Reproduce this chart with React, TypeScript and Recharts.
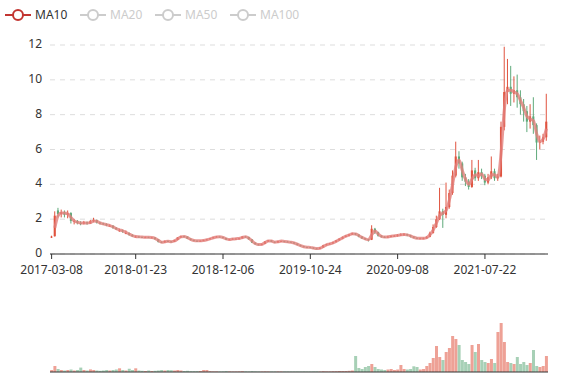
import React from "react";
import {
  ComposedChart,
  BarChart,
  Bar,
  Line,
  Cell,
  XAxis,
  YAxis,
  CartesianGrid,
} from "recharts";

// one candle per ~8 trading days: [open, close, low, high]
const ohlc: [number, number, number, number][] = [
  [0.95, 1.0, 0.92, 1.05], [1.02, 2.2, 1.0, 2.45], [2.5, 2.3, 2.1, 2.65], [2.3, 2.4, 2.1, 2.55], [2.4, 2.25, 2.1, 2.5],
  [2.25, 2.35, 2.05, 2.5], [2.35, 1.9, 1.75, 2.4], [1.85, 1.9, 1.7, 2.0], [1.9, 1.78, 1.7, 1.95], [1.78, 1.75, 1.65, 1.88],
  [1.75, 1.82, 1.7, 1.9], [1.82, 1.75, 1.68, 1.86], [1.75, 1.88, 1.72, 1.95], [1.88, 1.95, 1.82, 2.08], [1.95, 1.8, 1.75, 1.98],
  [1.8, 1.76, 1.7, 1.85], [1.76, 1.72, 1.66, 1.8], [1.72, 1.66, 1.6, 1.76], [1.6, 1.62, 1.55, 1.7], [1.62, 1.5, 1.45, 1.66],
  [1.5, 1.42, 1.38, 1.55], [1.34, 1.36, 1.28, 1.45], [1.36, 1.3, 1.22, 1.4], [1.18, 1.2, 1.15, 1.35], [1.2, 1.1, 1.05, 1.24],
  [1.1, 1.02, 0.98, 1.14], [1.0, 1.0, 0.95, 1.05], [1.0, 0.98, 0.94, 1.03], [0.98, 0.96, 0.93, 1.0], [0.96, 0.97, 0.93, 1.0],
  [0.97, 0.95, 0.92, 0.99], [0.95, 0.95, 0.92, 0.98], [0.95, 0.85, 0.83, 0.96], [0.85, 0.7, 0.66, 0.86], [0.7, 0.66, 0.63, 0.72],
  [0.66, 0.75, 0.65, 0.77], [0.75, 0.72, 0.7, 0.78], [0.72, 0.7, 0.68, 0.75], [0.7, 0.8, 0.69, 0.82], [0.8, 0.95, 0.79, 0.97],
  [0.95, 1.02, 0.93, 1.05], [1.02, 1.0, 0.97, 1.04], [1.0, 0.88, 0.86, 1.01], [0.88, 0.8, 0.78, 0.89], [0.8, 0.76, 0.74, 0.82],
  [0.76, 0.75, 0.72, 0.78], [0.75, 0.76, 0.73, 0.78], [0.76, 0.8, 0.75, 0.82], [0.8, 0.84, 0.79, 0.86], [0.84, 0.9, 0.83, 0.92],
  [0.9, 0.96, 0.89, 0.98], [0.96, 1.0, 0.95, 1.03], [1.0, 0.98, 0.95, 1.01], [0.98, 0.92, 0.9, 0.99], [0.92, 0.82, 0.8, 0.93],
  [0.82, 0.84, 0.8, 0.86], [0.84, 0.88, 0.83, 0.9], [0.88, 0.88, 0.85, 0.9], [0.88, 0.9, 0.87, 0.93], [0.9, 1.0, 0.89, 1.02],
  [1.0, 0.98, 0.95, 1.02], [0.98, 0.84, 0.82, 0.99], [0.84, 0.65, 0.63, 0.85], [0.65, 0.56, 0.54, 0.66], [0.56, 0.52, 0.5, 0.58],
  [0.52, 0.58, 0.51, 0.6], [0.58, 0.72, 0.57, 0.74], [0.72, 0.78, 0.7, 0.8], [0.78, 0.7, 0.68, 0.79], [0.7, 0.66, 0.64, 0.72],
  [0.66, 0.74, 0.65, 0.76], [0.74, 0.74, 0.71, 0.76], [0.74, 0.71, 0.69, 0.75], [0.71, 0.7, 0.68, 0.73], [0.7, 0.67, 0.65, 0.72],
  [0.67, 0.6, 0.58, 0.68], [0.6, 0.52, 0.5, 0.61], [0.52, 0.45, 0.43, 0.53], [0.45, 0.4, 0.38, 0.46], [0.4, 0.39, 0.37, 0.42],
  [0.39, 0.37, 0.35, 0.4], [0.37, 0.32, 0.3, 0.38], [0.32, 0.3, 0.28, 0.34], [0.3, 0.37, 0.29, 0.39], [0.37, 0.5, 0.36, 0.52],
  [0.5, 0.56, 0.49, 0.58], [0.56, 0.6, 0.55, 0.63], [0.6, 0.68, 0.59, 0.7], [0.68, 0.78, 0.67, 0.8], [0.78, 0.88, 0.77, 0.9],
  [0.88, 0.98, 0.87, 1.0], [0.98, 1.05, 0.96, 1.08], [1.05, 1.12, 1.03, 1.15], [1.12, 1.19, 1.1, 1.22], [1.19, 1.12, 1.08, 1.2],
  [1.12, 1.0, 0.96, 1.13], [1.0, 0.9, 0.86, 1.02], [0.9, 0.85, 0.8, 0.92], [0.85, 0.8, 0.72, 0.86], [0.82, 1.45, 0.8, 1.65],
  [1.45, 1.25, 1.15, 1.5], [1.25, 1.05, 1.0, 1.28], [1.05, 0.98, 0.94, 1.08], [0.98, 0.96, 0.92, 1.02], [0.96, 1.0, 0.94, 1.05],
  [1.0, 1.03, 0.97, 1.08], [1.03, 1.05, 0.99, 1.1], [1.05, 1.08, 1.0, 1.14], [1.08, 1.12, 1.04, 1.18], [1.12, 1.13, 1.06, 1.2],
  [1.13, 1.08, 1.02, 1.16], [1.08, 1.0, 0.95, 1.1], [1.0, 0.93, 0.9, 1.02], [0.93, 0.9, 0.87, 0.95], [0.9, 0.9, 0.87, 0.93],
  [0.9, 0.9, 0.87, 0.94], [0.9, 0.98, 0.88, 1.02], [0.98, 1.2, 0.96, 1.28], [1.2, 1.55, 1.18, 1.7], [1.55, 2.0, 1.5, 2.2],
  [2.0, 2.45, 1.95, 3.8], [2.45, 2.25, 1.5, 2.6], [2.25, 2.7, 2.05, 4.1], [2.7, 3.5, 2.6, 3.7], [3.5, 4.5, 3.4, 4.8],
  [4.5, 5.6, 4.4, 6.45], [5.6, 5.2, 4.9, 5.9], [5.2, 4.4, 4.2, 5.3], [4.4, 4.15, 3.9, 4.6], [4.15, 3.85, 3.7, 4.3],
  [3.85, 4.8, 3.8, 5.4], [4.8, 4.35, 4.2, 4.95], [4.35, 4.7, 4.2, 5.4], [4.7, 4.5, 4.3, 4.9], [4.5, 4.1, 3.95, 4.6],
  [4.1, 4.4, 4.0, 4.6], [4.4, 4.75, 4.3, 5.6], [4.75, 4.35, 4.2, 4.9], [4.35, 4.45, 4.2, 4.6], [4.45, 7.3, 4.4, 7.6],
  [7.3, 9.3, 7.1, 11.9], [9.3, 9.6, 8.6, 11.2], [9.6, 9.2, 8.5, 10.8], [9.2, 9.4, 8.7, 10.2], [9.4, 9.0, 8.4, 10.3],
  [9.0, 8.6, 8.0, 9.4], [8.6, 8.2, 7.6, 8.9], [8.2, 7.6, 7.0, 8.5], [7.6, 7.9, 7.2, 8.6], [7.9, 7.4, 6.9, 9.0],
  [7.4, 6.4, 5.4, 7.5], [6.4, 6.45, 6.0, 6.8], [6.45, 6.7, 6.3, 6.9], [6.7, 7.6, 6.5, 9.2],
];

const ma10: (number | null)[] = [
  null, 1.5, 2.2, 2.35, 2.35, 2.3, 2.1, 1.9, 1.82, 1.78,
  1.78, 1.78, 1.8, 1.9, 1.88, 1.78, 1.73, 1.68, 1.63, 1.56,
  1.46, 1.39, 1.33, 1.25, 1.15, 1.06, 1.01, 0.99, 0.97, 0.96,
  0.96, 0.95, 0.9, 0.78, 0.68, 0.7, 0.73, 0.71, 0.75, 0.87,
  0.98, 1.01, 0.94, 0.84, 0.78, 0.755, 0.755, 0.78, 0.82, 0.87,
  0.93, 0.98, 0.99, 0.95, 0.87, 0.83, 0.86, 0.88, 0.89, 0.95,
  0.99, 0.91, 0.75, 0.6, 0.54, 0.55, 0.65, 0.75, 0.74, 0.68,
  0.7, 0.74, 0.72, 0.7, 0.68, 0.63, 0.56, 0.48, 0.42, 0.39,
  0.38, 0.34, 0.31, 0.33, 0.43, 0.53, 0.58, 0.64, 0.73, 0.83,
  0.93, 1.02, 1.09, 1.16, 1.15, 1.06, 0.95, 0.87, 0.82, 1.1,
  1.32, 1.15, 1.01, 0.97, 0.98, 1.02, 1.04, 1.07, 1.1, 1.12,
  1.1, 1.04, 0.96, 0.91, 0.9, 0.9, 0.94, 1.1, 1.38, 1.78,
  2.2, 2.35, 2.5, 3.1, 4.0, 5.0, 5.4, 4.8, 4.3, 4.0,
  4.3, 4.55, 4.5, 4.6, 4.3, 4.25, 4.55, 4.55, 4.4, 5.8,
  8.3, 9.4, 9.4, 9.3, 9.2, 8.8, 8.4, 7.9, 7.75, 7.65,
  6.9, 6.45, 6.6, 7.2,
];

const volume: number[] = [
  2, 6, 3, 2, 1.5, 2, 2.5, 1.5, 2, 4.4,
  2, 1.5, 2.6, 2, 1.5, 1.2, 1.5, 2, 1.5, 2,
  2.5, 3.7, 2, 1.5, 3.3, 2, 3.7, 1.5, 1.2, 1,
  1.5, 1, 1.2, 1.5, 2, 1.5, 2, 1.8, 1.5, 2,
  1.5, 1, 1.2, 0.8, 0.8, 0.8, 1, 2, 2, 0.8,
  0.6, 0.6, 0.5, 0.6, 0.8, 0.6, 0.5, 0.5, 0.6, 0.8,
  0.6, 0.5, 0.8, 0.6, 0.5, 0.5, 0.6, 0.5, 0.5, 0.5,
  0.5, 0.5, 0.5, 0.5, 0.5, 0.5, 0.5, 0.5, 0.6, 0.5,
  0.5, 0.6, 0.6, 0.5, 0.8, 0.6, 0.6, 0.8, 0.8, 1,
  1, 1, 1.2, 1.5, 16, 4, 3, 5, 6, 8,
  5, 3, 2.5, 2, 2.5, 3, 2, 2.5, 7, 3,
  2.5, 3, 5.7, 5, 2.5, 3, 6, 9, 14, 26,
  15, 12, 20, 24, 36, 33, 27, 12, 10, 8,
  27, 20, 28, 12, 10, 9, 13, 9, 40, 49,
  30, 10, 9, 8, 15, 8, 10, 7, 9, 22,
  6, 5, 6, 16,
];

const tickIdx = [0, 26, 53, 80, 107, 134];
const tickLabels = ["2017-03-08", "2018-01-23", "2018-12-06", "2019-10-24", "2020-09-08", "2021-07-22"];
const priceTicks = [0, 2, 4, 6, 8, 10, 12];

const legendItems = ["MA10", "MA20", "MA50", "MA100"];

const UP = "#e0533f";
const DOWN = "#5ea97a";
const FONT = "'Noto Sans', sans-serif";

const data = ohlc.map(([o, c, l, h], i) => ({
  i,
  o,
  c,
  l,
  h,
  range: [l, h],
  ma10: ma10[i],
  vol: volume[i],
}));

const labelOf = (v: number) => {
  const k = tickIdx.indexOf(v);
  return k >= 0 ? tickLabels[k] : "";
};

const Candle = (props: any) => {
  const { x, y, width, height, payload } = props;
  if (!payload || height == null) return null;
  const { o, c, l, h } = payload;
  const color = c >= o ? UP : DOWN;
  const ratio = h - l > 0 ? height / (h - l) : 0;
  const cx = x + width / 2;
  const top = y + (h - Math.max(o, c)) * ratio;
  const bodyH = Math.max(1, Math.abs(o - c) * ratio);
  const bw = Math.max(1, width * 0.7);
  return (
    <g>
      <line x1={cx} x2={cx} y1={y} y2={y + height} stroke={color} strokeWidth={1} />
      <rect x={cx - bw / 2} y={top} width={bw} height={bodyH} fill={color} />
    </g>
  );
};

const YTick = (props: any) => {
  const { x, y, payload } = props;
  return (
    <text x={x} y={y} dy={3} textAnchor="end" fontSize={12} fill="#333" fontFamily={FONT}>
      {payload.value}
    </text>
  );
};

function Legend() {
  return (
    <div style={{ position: "absolute", left: 0, top: 0, height: 30, fontFamily: FONT, fontSize: 12 }}>
      {legendItems.map((name, k) => {
        const left = [5, 80, 155, 230][k];
        const color = k === 0 ? "#c23531" : "#ccc";
        return (
          <div key={name} style={{ position: "absolute", left, top: 6, display: "flex", alignItems: "center", whiteSpace: "nowrap" }}>
            <svg width={26} height={18}>
              <line x1={0} x2={26} y1={9} y2={9} stroke={color} strokeWidth={2} />
              <circle cx={13} cy={9} r={5} fill="#fff" stroke={color} strokeWidth={2} />
            </svg>
            <span style={{ marginLeft: 4, color: k === 0 ? "#333" : "#ccc", lineHeight: "18px" }}>{name}</span>
          </div>
        );
      })}
    </div>
  );
}

export default function App() {
  return (
    <div style={{ position: "absolute", left: 0, top: 0, width: 577, height: 380, background: "#fff", fontFamily: FONT }}>
      <Legend />
      <div style={{ position: "absolute", left: 0, top: 0 }}>
        <ComposedChart width={577} height={284} data={data} margin={{ top: 45, right: 29, left: 0, bottom: 0 }} barCategoryGap={0}>
          <CartesianGrid vertical={false} stroke="#ddd" strokeDasharray="5 5" />
          <XAxis
            dataKey="i"
            type="category"
            ticks={tickIdx}
            interval={0}
            tickFormatter={labelOf}
            height={30}
            tickSize={5}
            tickMargin={6}
            stroke="#333"
            tick={{ fontSize: 12, fill: "#333", fontFamily: FONT }}
          />
          <YAxis
            domain={[0, 12]}
            ticks={priceTicks}
            width={50}
            axisLine={false}
            tickLine={false}
            tick={<YTick />}
          />
          <Bar dataKey="range" shape={<Candle />} isAnimationActive={false} />
          <Line
            dataKey="ma10"
            type="monotone"
            stroke="#e27f7c"
            strokeOpacity={0.8}
            strokeWidth={3}
            dot={false}
            activeDot={false}
            isAnimationActive={false}
          />
        </ComposedChart>
      </div>
      <div style={{ position: "absolute", left: 0, top: 300 }}>
        <BarChart width={577} height={80} data={data} margin={{ top: 22, right: 29, left: 50, bottom: 7 }} barCategoryGap="5%">
          <XAxis dataKey="i" type="category" tick={false} tickLine={false} height={1} stroke="#333" />
          <YAxis hide domain={[0, 50]} />
          <Bar dataKey="vol" isAnimationActive={false}>
            {data.map((d) => (
              <Cell key={d.i} fill={d.c >= d.o ? UP : DOWN} fillOpacity={0.55} />
            ))}
          </Bar>
        </BarChart>
      </div>
    </div>
  );
}
